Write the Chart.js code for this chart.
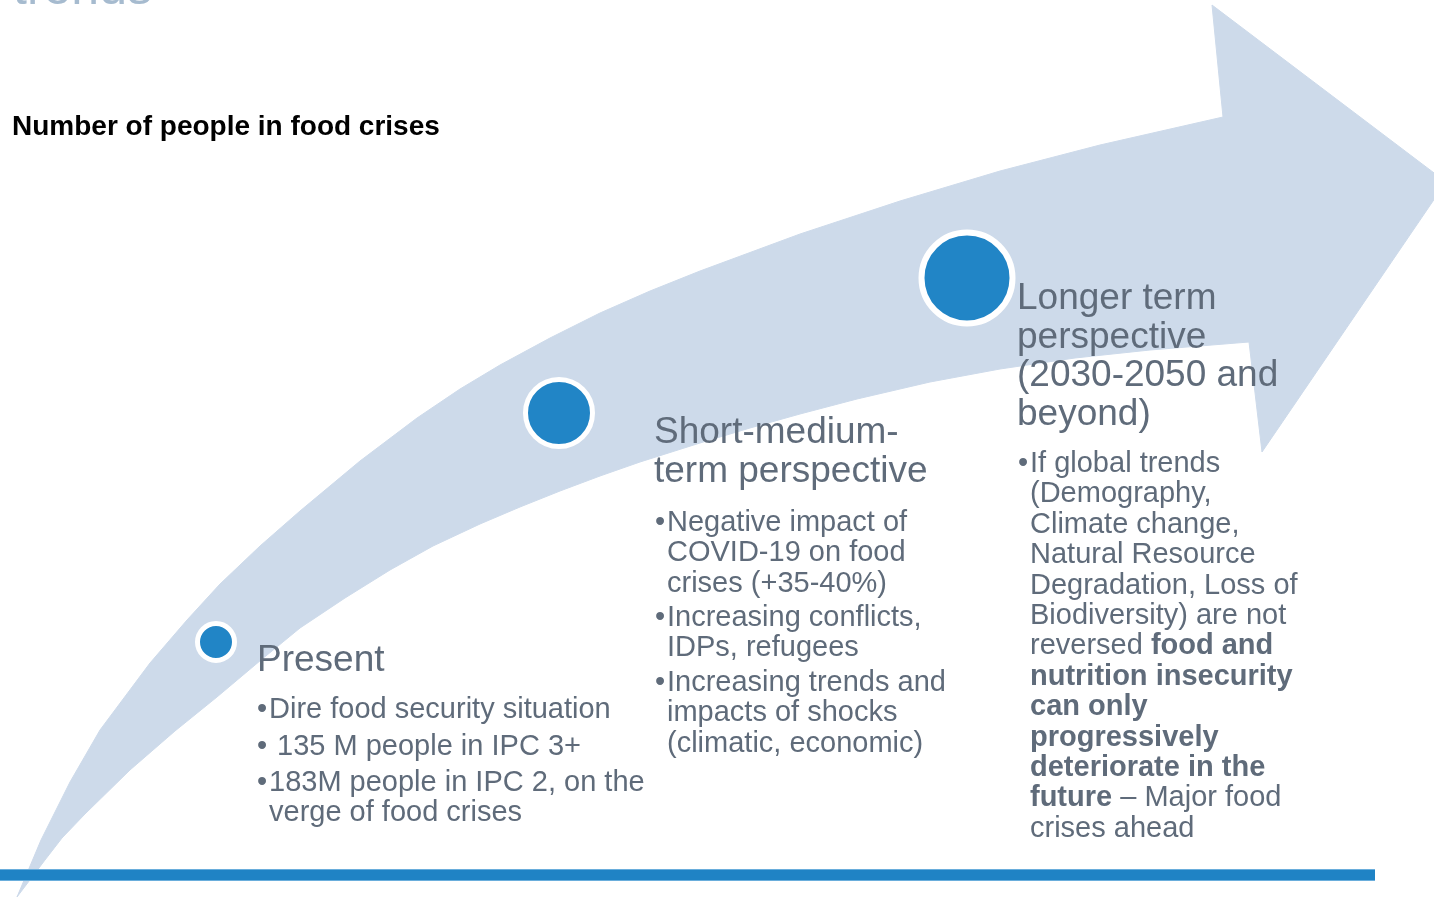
<!DOCTYPE html>
<html>
<head>
<meta charset="utf-8">
<title>Number of people in food crises</title>
<script src="https://cdn.jsdelivr.net/npm/chart.js@4.4.1/dist/chart.umd.min.js"></script>
<style>
    html, body { margin: 0; padding: 0; background: #fff; overflow: hidden; }
    #wrap { width: 1434px; height: 897px; }
</style>
</head>
<body>
<div id="wrap"><canvas id="trendChart" width="1434" height="897"></canvas></div>
<script>
// outline of the curved arrow, in plot units (x to the right, y downwards)
const upperEdge = [[17,897],[41,840],[70,782],[100,730],[150,663],[187,620],[220,584],[260,546],[300,511],[360,461],[417,418],[460,389],[500,365],[550,338],[600,313],[650,291],[700,271],[800,234],[900,201],[1000,171],[1100,145],[1223,117]];
const arrowHead = [[1212,5],[1446,182],[1262,452],[1249,342]];
const lowerEdge = [[1150,350],[1075,358],[1000,369],[930,382],[857,399],[800,414],[750,428],[700,443],[640,462],[600,476],[560,491],[520,507],[480,524],[433,546],[390,570],[345,598],[300,628],[261,660],[217,697],[175,731],[130,770],[85,814],[62,838],[45,860],[17,897]];

// the three stages along the arrow
const stageX = [216, 559, 967];
const stageY = [642, 413, 278];

const stageTitles = [
    ['Present'],
    ['Short-medium-', 'term perspective'],
    ['Longer term', 'perspective', '(2030-2050 and', 'beyond)']
];

// each bullet is a list of wrapped lines, *...* marks bold runs
const stageBullets = [
    [
        ['Dire food security situation'],
        [' 135 M people in IPC 3+'],
        ['183M people in IPC 2, on the', 'verge of food crises']
    ],
    [
        ['Negative impact of', 'COVID-19 on food', 'crises (+35-40%)'],
        ['Increasing conflicts,', 'IDPs, refugees'],
        ['Increasing trends and', 'impacts of shocks', '(climatic, economic)']
    ],
    [
        ['If global trends', '(Demography,', 'Climate change,', 'Natural Resource', 'Degradation, Loss of',
         'Biodiversity) are not', 'reversed *food and*', '*nutrition insecurity*', '*can only*',
         '*progressively*', '*deteriorate in the*', '*future* – Major food', 'crises ahead']
    ]
];

const chartTitle = 'Number of people in food crises';
const sectionWord = 'trends';

const bandOutline = upperEdge.concat(arrowHead, lowerEdge).map(p => ({x: p[0], y: p[1]}));
const stagePoints = stageX.map((x, i) => ({x: x, y: stageY[i]}));

const FONT = '"Liberation Sans", Arial, Helvetica, sans-serif';
const TEXT_GREY = '#5f6b7a';

// text box layout for each stage
const stageLayout = [
    {titleX: 257, titleY: 671, titleLead: 39, textX: 269, textY: 718, lead: 29.5, gap: 36.5},
    {titleX: 654, titleY: 443, titleLead: 39, textX: 667, textY: 531, lead: 30.3, gap: 34.5},
    {titleX: 1017, titleY: 309, titleLead: 38.7, textX: 1030, textY: 472, lead: 30.4, gap: 30.4}
];

function drawRuns(ctx, line, x, y) {
    const parts = line.split('*');
    let cx = x;
    parts.forEach((part, i) => {
        if (!part) return;
        ctx.font = (i % 2 === 1 ? 'bold ' : '') + '29px ' + FONT;
        ctx.fillText(part, cx, y);
        cx += ctx.measureText(part).width;
    });
}

const textPlugin = {
    id: 'stageText',
    afterDatasetsDraw(chart) {
        const ctx = chart.ctx;
        const xs = chart.scales.x;
        const ys = chart.scales.y;
        ctx.save();
        ctx.textAlign = 'left';
        ctx.textBaseline = 'alphabetic';

        // section heading, mostly above the top edge
        ctx.fillStyle = '#a6bbcf';
        ctx.font = '50px ' + FONT;
        ctx.fillText(sectionWord, xs.getPixelForValue(13), ys.getPixelForValue(4));

        ctx.fillStyle = '#000';
        ctx.font = 'bold 28px ' + FONT;
        ctx.fillText(chartTitle, xs.getPixelForValue(12), ys.getPixelForValue(135));

        ctx.fillStyle = TEXT_GREY;
        stageLayout.forEach((lay, s) => {
            ctx.font = '37px ' + FONT;
            stageTitles[s].forEach((t, i) => {
                ctx.fillText(t, xs.getPixelForValue(lay.titleX), ys.getPixelForValue(lay.titleY + i * lay.titleLead));
            });

            let y = lay.textY;
            stageBullets[s].forEach(bullet => {
                ctx.font = '29px ' + FONT;
                ctx.fillText('•', xs.getPixelForValue(lay.textX - 12), ys.getPixelForValue(y));
                bullet.forEach((line, i) => {
                    drawRuns(ctx, line, xs.getPixelForValue(lay.textX), ys.getPixelForValue(y));
                    if (i < bullet.length - 1) y += lay.lead;
                });
                y += lay.gap;
            });
        });
        ctx.restore();
    }
};

new Chart(document.getElementById('trendChart'), {
    type: 'line',
    data: {
        datasets: [
            {
                label: 'stages',
                type: 'scatter',
                data: stagePoints,
                pointRadius: [18.5, 33.5, 45.5],
                pointBorderWidth: [5, 5, 6],
                pointBackgroundColor: '#2185c6',
                pointBorderColor: '#ffffff',
                clip: false,
                order: 1
            },
            {
                label: 'base line',
                data: [{x: 0, y: 875}, {x: 1375, y: 875}],
                borderColor: '#1f83c5',
                borderWidth: 10,
                borderCapStyle: 'butt',
                pointRadius: 0,
                fill: false,
                order: 2
            },
            {
                label: 'base line edge',
                data: [{x: 0, y: 875}, {x: 1375, y: 875}],
                borderColor: '#6aaedc',
                borderWidth: 12,
                borderCapStyle: 'butt',
                pointRadius: 0,
                fill: false,
                order: 3
            },
            {
                label: 'trend arrow',
                data: bandOutline,
                fill: 'shape',
                backgroundColor: '#cddaea',
                borderColor: '#cddaea',
                borderWidth: 1,
                pointRadius: 0,
                tension: 0,
                order: 4
            }
        ]
    },
    options: {
        responsive: false,
        animation: false,
        events: [],
        layout: {padding: 0, autoPadding: false},
        plugins: {
            legend: {display: false},
            tooltip: {enabled: false}
        },
        scales: {
            x: {type: 'linear', min: 0, max: 1434, display: false},
            y: {type: 'linear', min: 0, max: 897, reverse: true, display: false}
        }
    },
    plugins: [textPlugin]
});
</script>
</body>
</html>
